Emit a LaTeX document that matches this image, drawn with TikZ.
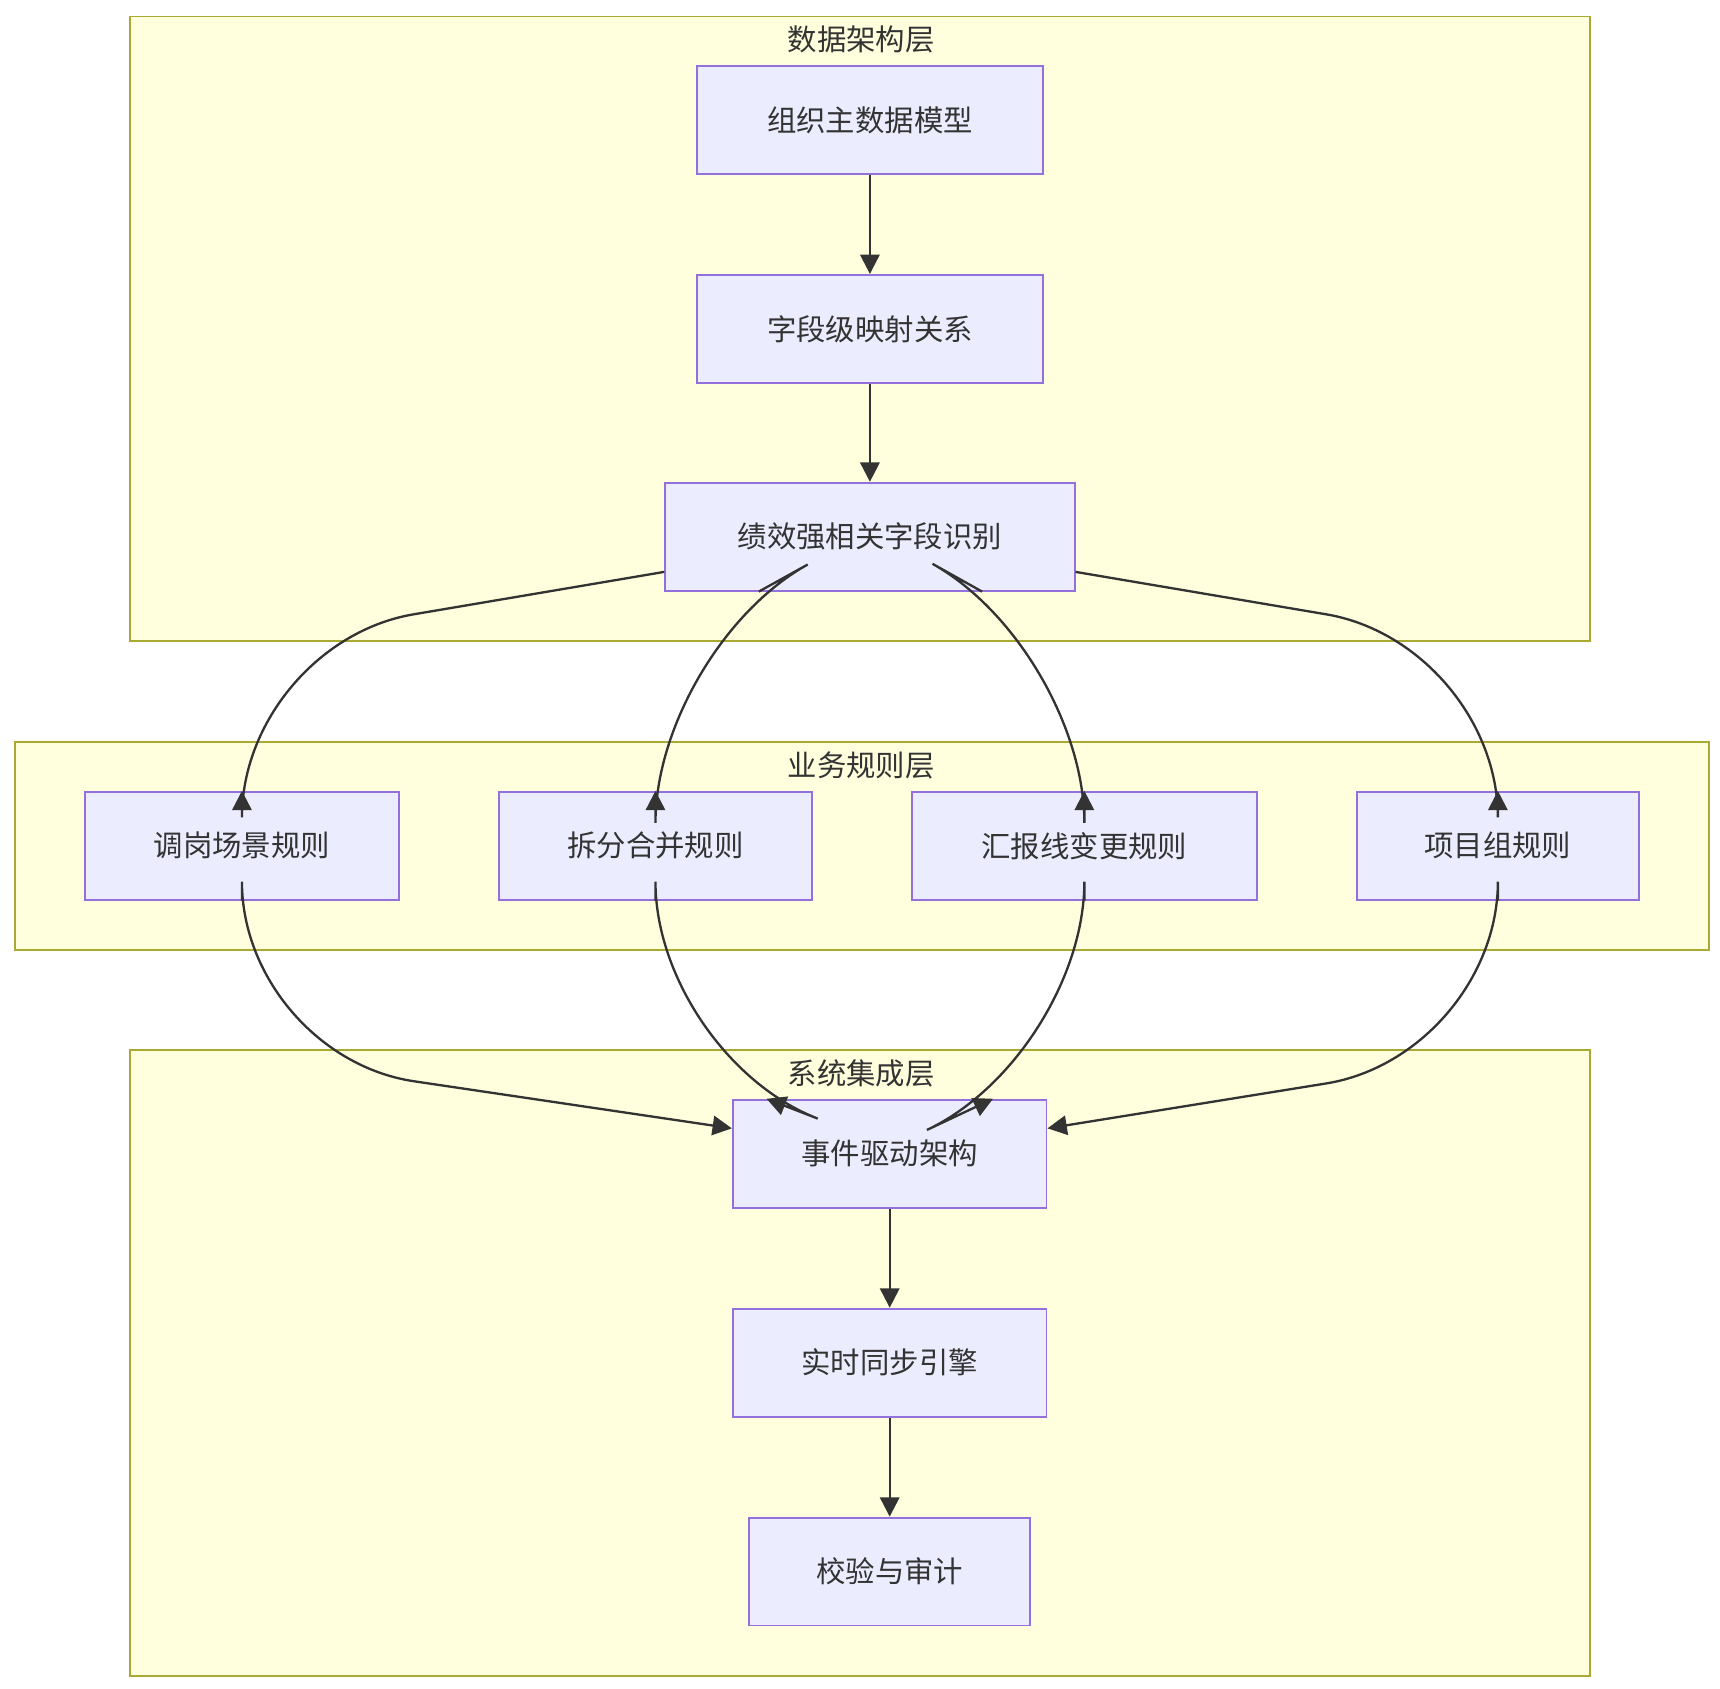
\documentclass[tikz,border=0pt]{standalone}
\usepackage{fontspec}
\setmainfont{Noto Sans CJK SC}
\usepackage{tikz}
\usetikzlibrary{calc,arrows.meta}
\definecolor{boxfill}{HTML}{ECECFF}
\definecolor{boxline}{HTML}{9370DB}
\definecolor{layerfill}{HTML}{FFFFDE}
\definecolor{layerline}{HTML}{AAAA33}
\definecolor{ink}{HTML}{333333}

\begin{document}
\begin{tikzpicture}[x=0.01cm, y=-0.01cm,
    font=\fontsize{7.6}{9}\selectfont, text=ink]
    % --- DEFINE STYLES ---
    \tikzset{
      procbox/.style={rectangle, draw=boxline, fill=boxfill, line width=0.5pt,
                   minimum height=0.98cm, inner sep=0pt},
      layer/.style={draw=layerline, fill=layerfill, line width=0.5pt},
      flow/.style={draw=ink, line width=0.6pt, rounded corners=45,
                   -{Triangle[length=5pt, width=5pt]}}
    }
    \useasboundingbox (0,0) rectangle (1564,1535);

    % Layers
    \draw[layer] (118,15) rectangle (1446,583);
    \draw[layer] (14,675) rectangle (1554,864);
    \draw[layer] (118,955) rectangle (1446,1524);
    \node (t1) at (783,36) {数据架构层};
    \node (t2) at (783,696) {业务规则层};
    \node (t3) at (783,976) {系统集成层};

    % Data layer
    \node[procbox, minimum width=3.14cm] (model) at (791,109) {组织主数据模型};
    \node[procbox, minimum width=3.14cm] (mapping) at (791,299) {字段级映射关系};
    \node[procbox, minimum width=3.72cm] (fields) at (791,488) {绩效强相关字段识别};

    % Rule layer
    \node[procbox, minimum width=2.85cm] (transfer) at (220,769) {调岗场景规则};
    \node[procbox, minimum width=2.84cm] (split) at (596,769) {拆分合并规则};
    \node[procbox, minimum width=3.14cm] (report) at (986,769) {汇报线变更规则};
    \node[procbox, minimum width=2.56cm] (project) at (1362,769) {项目组规则};

    % Integration layer
    \node[procbox, minimum width=2.85cm] (event) at (809,1049) {事件驱动架构};
    \node[procbox, minimum width=2.85cm] (sync) at (809,1239) {实时同步引擎};
    \node[procbox, minimum width=2.55cm] (audit) at (809,1429) {校验与审计};

    % Connectors
    \draw[flow] (model) -- (mapping);
    \draw[flow] (mapping) -- (fields);
    \draw[flow] ($(fields.west)+(0,32)$) -- (220,585) -- (transfer.north);
    \draw[flow] ($(fields.south)+(-101,0)$) -- (596,590) -- (split.north);
    \draw[flow] ($(fields.south)+(102,0)$) -- (986,590) -- (report.north);
    \draw[flow] ($(fields.east)+(0,32)$) -- (1362,585) -- (project.north);
    \draw[flow] (transfer.south) -- (220,960) -- ($(event.west)+(0,-23)$);
    \draw[flow] (split.south) -- (596,960) -- ($(event.north)+(-112,0)$);
    \draw[flow] (report.south) -- (986,960) -- ($(event.north)+(94,0)$);
    \draw[flow] (project.south) -- (1362,960) -- ($(event.east)+(0,-23)$);
    \draw[flow] (event) -- (sync);
    \draw[flow] (sync) -- (audit);
\end{tikzpicture}
\end{document}
